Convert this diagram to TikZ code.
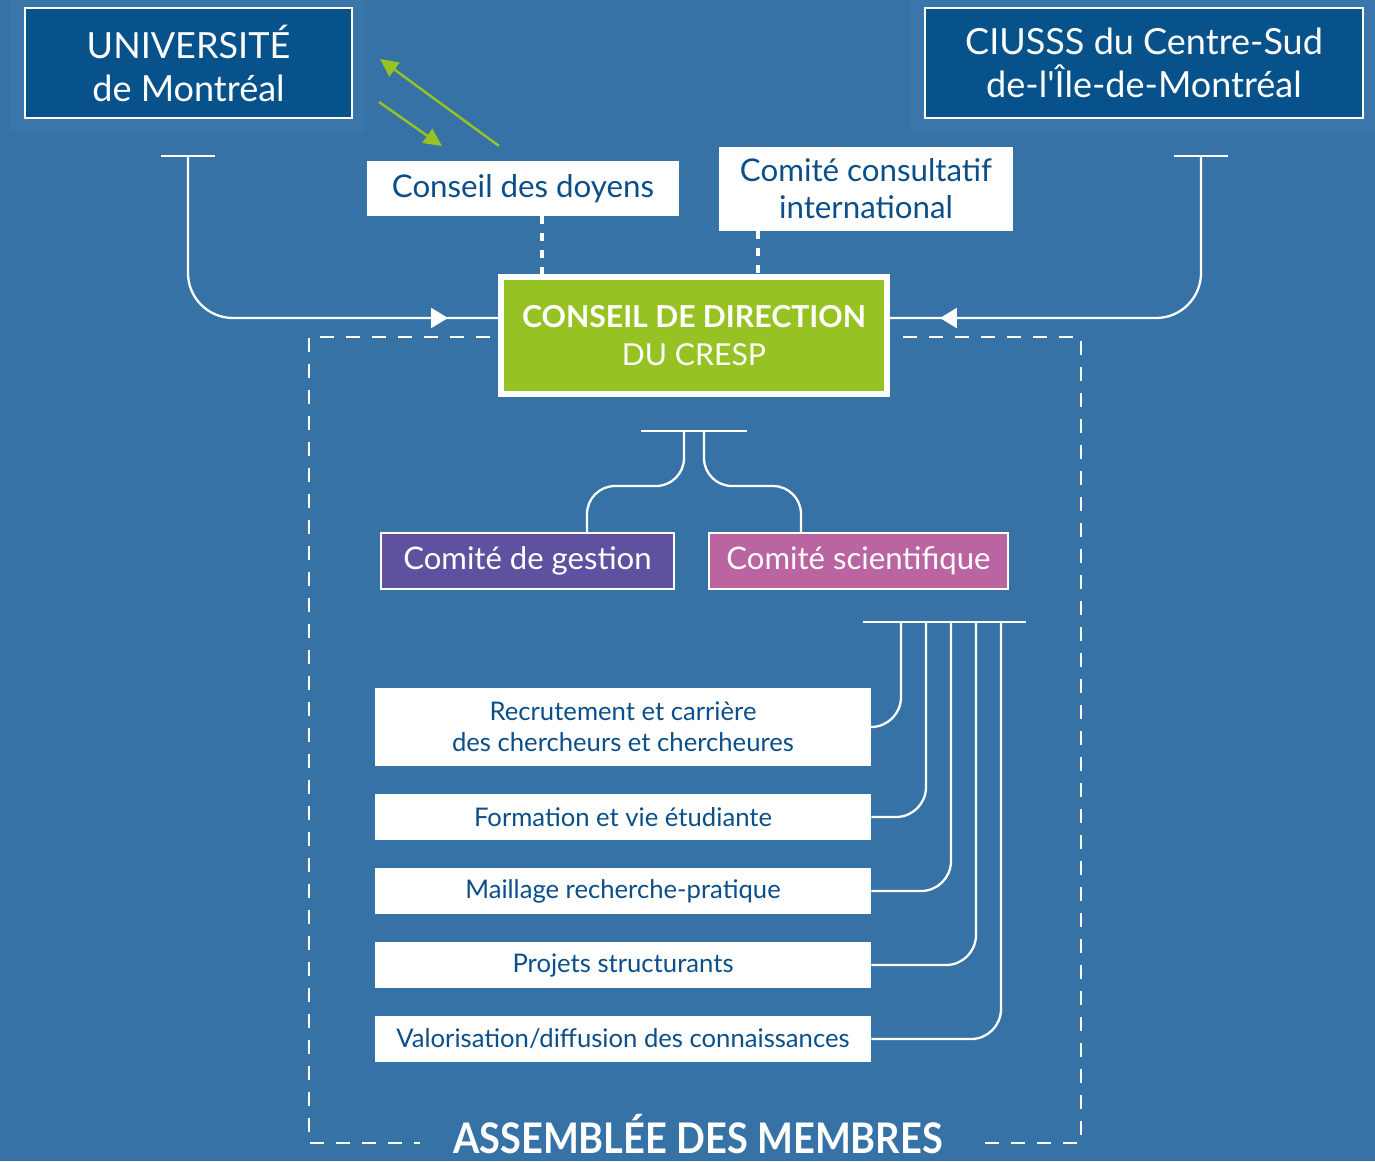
\documentclass[tikz,border=0pt]{standalone}
\usepackage{fontspec}
\setmainfont{Lato}
\usetikzlibrary{arrows.meta,calc,decorations.markings}

\definecolor{bgblue}{HTML}{3672A6}
\definecolor{haloblue}{HTML}{3A76A9}
\definecolor{udmblue}{HTML}{08528C}
\definecolor{textblue}{HTML}{0B4F8A}
\definecolor{cdgreen}{HTML}{97C223}
\definecolor{gestpurple}{HTML}{5F519F}
\definecolor{scipink}{HTML}{BA64A2}

\tikzset{
  orgbox/.style={draw=white, line width=1.2pt, fill=udmblue, text=white, align=center,
    inner sep=0pt, font=\fontsize{20.5}{24.5}\selectfont},
  labelbox/.style={fill=white, text=textblue, align=center, inner sep=0pt,
    font=\fontsize{17.8}{21}\selectfont},
  comitebox/.style={draw=white, line width=1.2pt, text=white, align=center, inner sep=0pt,
    minimum height=1.12cm, font=\fontsize{17.7}{20}\selectfont},
  taskbox/.style={fill=white, text=textblue, align=center, inner sep=0pt,
    minimum width=9.92cm, font=\fontsize{14.6}{17.6}\selectfont},
  link/.style={draw=white, line width=1.3pt},
  dotline/.style={draw=white, line width=1.8pt, dash pattern=on 0.16cm off 0.18cm},
  frame/.style={draw=white, line width=1.2pt, dash pattern=on 0.28cm off 0.24cm},
  greenarrow/.style={draw=cdgreen, line width=1.4pt, -{Triangle[length=0.36cm,width=0.34cm]}},
  midarrow/.style={postaction={decorate}, decoration={markings,
    mark=at position #1 with {\arrow[white]{Triangle[length=0.34cm,width=0.4cm]}}}}
}

\begin{document}
\begin{tikzpicture}[x=0.02cm, y=-0.02cm]
  \fill[bgblue] (0,0) rectangle (1375,1161);
  \useasboundingbox (0,0) rectangle (1375,1161);

  % halos behind the two institutions
  \fill[haloblue] (10,0) rectangle (365,132);
  \fill[haloblue] (910,0) rectangle (1375,132);

  % institutions
  \node[orgbox, minimum width=6.54cm, minimum height=2.2cm] (udem) at (188.5,63)
    {UNIVERSITÉ\\de Montréal};
  \node[orgbox, minimum width=8.76cm, minimum height=2.2cm] (ciusss) at (1144,63)
    {CIUSSS du Centre-Sud\\de-l\textquotesingle Île-de-Montréal};

  % advisory bodies
  \node[labelbox, minimum width=6.24cm, minimum height=1.1cm] (doyens) at (523,188.5)
    {Conseil des doyens};
  \node[labelbox, minimum width=5.88cm, minimum height=1.68cm] (cci) at (866,189)
    {Comité consultatif\\international};

  % board
  \node[draw=white, line width=0.12cm, fill=cdgreen, text=white, align=center,
    minimum width=7.72cm, minimum height=2.34cm, font=\fontsize{17.2}{21.2}\selectfont]
    (cd) at (694,335.5) {\textbf{CONSEIL DE DIRECTION}\\DU CRESP};

  % committees
  \node[comitebox, fill=gestpurple, minimum width=5.86cm] (gestion) at (527.5,561)
    {Comité de gestion};
  \node[comitebox, fill=scipink, minimum width=5.98cm] (scient) at (858.5,561)
    {Comité scientifique};

  % working groups
  \node[taskbox, minimum height=1.56cm] (rec) at (623,727)
    {Recrutement et carrière\\des chercheurs et chercheures};
  \node[taskbox, minimum height=0.92cm] (form) at (623,817) {Formation et vie étudiante};
  \node[taskbox, minimum height=0.92cm] (mail) at (623,891) {Maillage recherche-pratique};
  \node[taskbox, minimum height=0.92cm] (proj) at (623,965) {Projets structurants};
  \node[taskbox, minimum height=0.92cm] (valo) at (623,1039)
    {Valorisation/diffusion des connaissances};

  \node[text=white, anchor=base, inner sep=0pt, font=\bfseries\fontsize{24}{30}\selectfont]
    (assembly) at (698,1153) {\scalebox{0.9}[1]{ASSEMBLÉE DES MEMBRES}};

  % dashed frame of the assembly
  \draw[frame] (490,337) -- (309,337) -- (309,1143) -- (420,1143);
  \draw[frame] (903,337) -- (1081,337) -- (1081,1143) -- (985,1143);

  % green exchange arrows
  \coordinate (gA1) at (499,146);
  \coordinate (gA2) at (380,59);
  \coordinate (gB1) at (379,102);
  \coordinate (gB2) at (442,146);
  \draw[greenarrow] (gA1) -- (gA2);
  \draw[greenarrow] (gB1) -- (gB2);

  % dotted links to the board
  \coordinate (dyfoot) at ($(doyens.south)+(19,0)$);
  \coordinate (ccfoot) at ($(cci.south)+(-108,0)$);
  \draw[dotline] (dyfoot) -- (dyfoot |- cd.north);
  \draw[dotline] (ccfoot) -- (ccfoot |- cd.north);

  % institutions to the board
  \coordinate (udemT) at (188,156);
  \coordinate (ciussT) at (1201,156);
  \coordinate (cdwin) at ($(cd.west)+(0,-17.5)$);
  \coordinate (cdein) at ($(cd.east)+(0,-17.5)$);
  \draw[link] ($(udemT)+(-27,0)$) -- ($(udemT)+(27,0)$);
  \draw[link] ($(ciussT)+(-27,0)$) -- ($(ciussT)+(27,0)$);
  \draw[link, rounded corners=0.9cm, midarrow=-1cm] (udemT) |- (cdwin);
  \draw[link, rounded corners=0.9cm, midarrow=-1cm] (ciussT) |- (cdein);

  % board to committees
  \coordinate (cdT) at (694,431);
  \coordinate (gin) at ($(gestion.north)+(59.5,0)$);
  \coordinate (sin) at ($(scient.north)+(-57.5,0)$);
  \draw[link] ($(cdT)+(-53,0)$) -- ($(cdT)+(53,0)$);
  \draw[link, rounded corners=0.56cm] ($(cdT)+(-10,0)$) -- ++(0,55) -| (gin);
  \draw[link, rounded corners=0.56cm] ($(cdT)+(10,0)$) -- ++(0,55) -| (sin);

  % scientific committee to working groups
  \coordinate (barL) at (863,622);
  \coordinate (barR) at (1026,622);
  \draw[link] (barL) -- (barR);
  \foreach \task [count=\i] in {rec,form,mail,proj,valo} {
    \draw[link, rounded corners=0.6cm] ($(barL)+({13+25*\i},0)$) |- (\task.east);
  }
\end{tikzpicture}
\end{document}
